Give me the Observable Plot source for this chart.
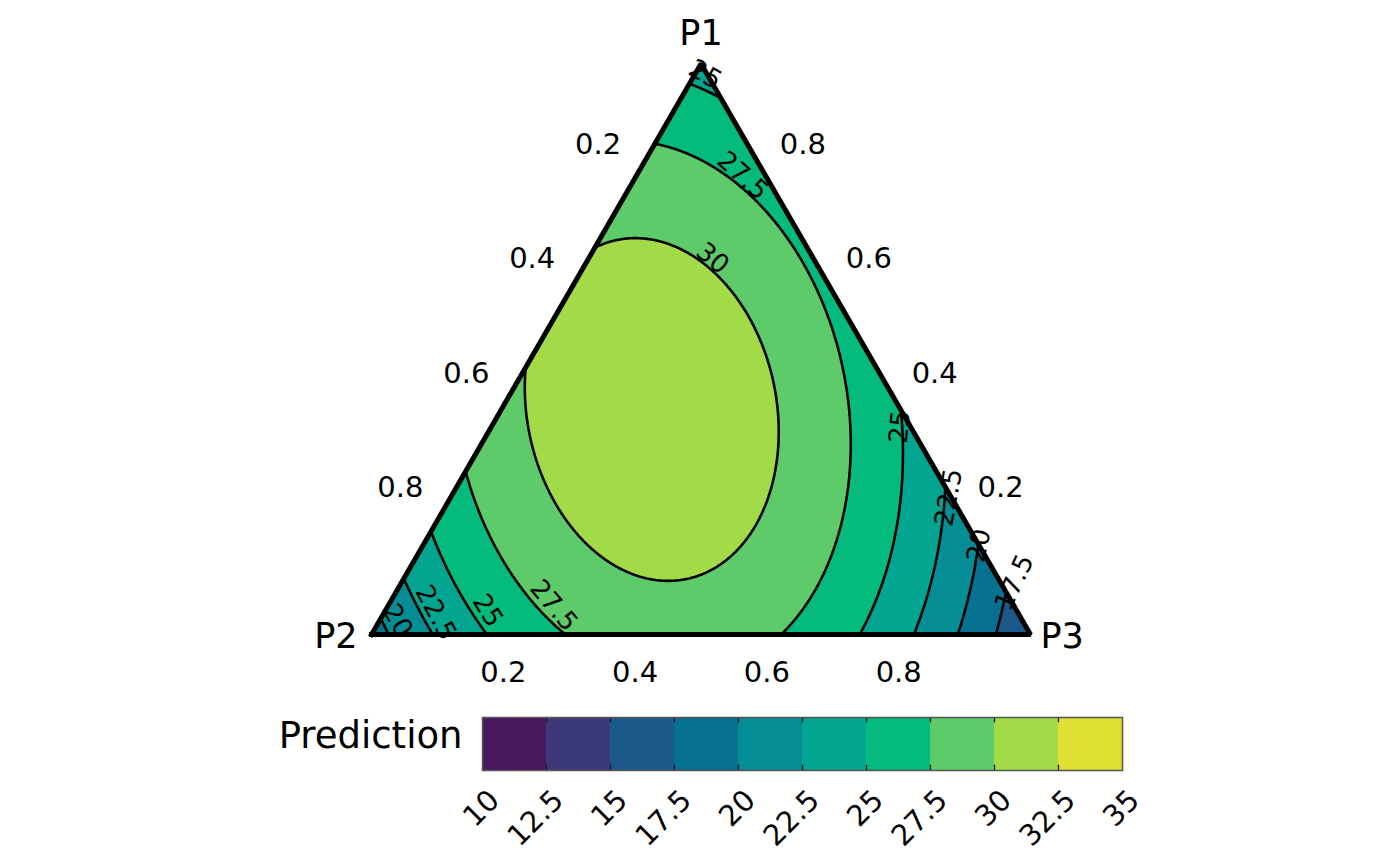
<!DOCTYPE html>
<html>
<head>
<meta charset="utf-8">
<script src="https://cdn.jsdelivr.net/npm/d3@7"></script>
<script src="https://cdn.jsdelivr.net/npm/@observablehq/plot@0.6"></script>
<style>
  html, body { margin: 0; padding: 0; background: #ffffff; }
  svg { display: block; }
</style>
</head>
<body>
<div id="chart"></div>
<script>
// ---------------- data ----------------
const components = ["P1", "P2", "P3"];
// predicted response at each pure component (triangle vertex)
const vertexValues = [24.0, 18.9, 14.95];
const pairNames = ["P1:P2", "P1:P3", "P2:P3"];
const pairValues = [35.0, 27.2, 47.0];

// colour bands
const breaks = [10, 12.5, 15, 17.5, 20, 22.5, 25, 27.5, 30, 32.5, 35];
const breakLabels = ["10", "12.5", "15", "17.5", "20", "22.5", "25", "27.5", "30", "32.5", "35"];
const bandColors = ["#4a185e", "#3b3978", "#1a598a", "#077192", "#048d94",
                    "#02a58f", "#04ba7d", "#5dcb6a", "#a2da48", "#e0e134"];

// axis ticks
const axisTicks = [0.2, 0.4, 0.6, 0.8];
const axisTickLabels = ["0.2", "0.4", "0.6", "0.8"];

// contour labels: text and composition (P1, P2, P3) where they sit, plus angle
const labelText  = ["25", "27.5", "30", "25", "22.5", "20", "17.5", "20", "22.5", "25", "27.5"];
const labelP1    = [0.981, 0.804, 0.659, 0.364, 0.240, 0.156, 0.091, 0.0245, 0.0385, 0.042, 0.0508];
const labelP2    = [0.003, 0.035, 0.153, 0.016, 0.004, 0.000, -0.021, 0.948, 0.884, 0.803, 0.698];
const labelP3    = [0.016, 0.161, 0.188, 0.620, 0.756, 0.844, 0.930, 0.027, 0.078, 0.155, 0.251];
const labelAngle = [30, 42, 40, -85, -80, -78, -65, 60, 62, 58, 50];

// ---------------- helpers ----------------
const H = Math.sqrt(3) / 2;
const toXY = (p1, p2, p3) => ({X: p3 + 0.5 * p1, Y: p1 * H});
const predict = (p) =>
  vertexValues[0] * p[0] + vertexValues[1] * p[1] + vertexValues[2] * p[2] +
  pairValues[0] * p[0] * p[1] + pairValues[1] * p[0] * p[2] + pairValues[2] * p[1] * p[2];

// prediction surface sampled on a grid covering the triangle's bounding box
const GW = 460, GH = 398;
const grid = new Float64Array(GW * GH);
for (let j = 0; j < GH; j++) {
  const Y = (j + 0.5) / GH * H;
  for (let i = 0; i < GW; i++) {
    const X = (i + 0.5) / GW;
    const p1 = Y / H, p3 = X - 0.5 * p1, p2 = 1 - p1 - p3;
    grid[j * GW + i] = predict([p1, p2, p3]);
  }
}

const vertices = components.map((name, k) => {
  const p = [0, 0, 0]; p[k] = 1;
  return {name, ...toXY(p[0], p[1], p[2])};
});
const contourLabels = labelText.map((t, i) => ({
  text: t, angle: labelAngle[i], ...toXY(labelP1[i], labelP2[i], labelP3[i])
}));
// white masks outside the triangle (extend a hair above the apex to hide seams)
const apexAbove = {X: vertices[0].X, Y: vertices[0].Y * 1.02};

const font = "DejaVu Sans";

// ---------------- main ternary plot ----------------
const main = Plot.plot({
  width: 1400,
  height: 700,
  marginLeft: 371,
  marginRight: 370,
  marginTop: 63.3,
  marginBottom: 66,
  x: {domain: [0, 1], axis: null},
  y: {domain: [0, H], axis: null},
  color: {type: "threshold", domain: breaks.slice(1, -1), range: bandColors},
  style: {fontFamily: font, background: "white", overflow: "visible"},
  marks: [
    Plot.contour(grid, {
      width: GW, height: GH, x1: 0, x2: 1, y1: 0, y2: H,
      fill: Plot.identity, thresholds: breaks.slice(0, -1), clip: true
    }),
    Plot.contour(grid, {
      width: GW, height: GH, x1: 0, x2: 1, y1: 0, y2: H,
      value: Plot.identity, fill: "none", stroke: "black", strokeWidth: 2.6,
      thresholds: breaks.slice(1, -1), clip: true
    }),
    Plot.areaX([vertices[1], vertices[0], apexAbove], {y: "Y", x1: -0.03, x2: "X", fill: "white"}),
    Plot.areaX([vertices[2], vertices[0], apexAbove], {y: "Y", x1: "X", x2: 1.03, fill: "white"}),
    // contour labels
    Plot.text(contourLabels, {x: "X", y: "Y", text: "text", rotate: "angle", fontSize: 26, fill: "black"}),
    // triangle border
    Plot.line([vertices[1], vertices[2], vertices[0], vertices[1]], {
      x: "X", y: "Y", stroke: "black", strokeWidth: 5, strokeLinejoin: "miter", strokeLinecap: "square"
    }),
    // bottom axis (P3)
    Plot.text(axisTicks, {
      x: d => toXY(0, 1 - d, d).X, y: d => toXY(0, 1 - d, d).Y,
      text: (d, i) => axisTickLabels[i], dy: 38, fontSize: 29, fill: "black"
    }),
    // left axis (P2)
    Plot.text(axisTicks, {
      x: d => toXY(1 - d, d, 0).X, y: d => toXY(1 - d, d, 0).Y,
      text: (d, i) => axisTickLabels[i], dx: -37, dy: -33, fontSize: 29, fill: "black"
    }),
    // right axis (P1)
    Plot.text(axisTicks, {
      x: d => toXY(d, 0, 1 - d).X, y: d => toXY(d, 0, 1 - d).Y,
      text: (d, i) => axisTickLabels[i], dx: 36, dy: -33, fontSize: 29, fill: "black"
    }),
    // vertex labels
    Plot.text([vertices[0]], {x: "X", y: "Y", text: "name", dy: -30, fontSize: 35, fill: "black"}),
    Plot.text([vertices[1]], {x: "X", y: "Y", text: "name", dx: -14, dy: 2, textAnchor: "end", fontSize: 35, fill: "black"}),
    Plot.text([vertices[2]], {x: "X", y: "Y", text: "name", dx: 10, dy: 2, textAnchor: "start", fontSize: 35, fill: "black"})
  ]
});

// ---------------- legend ----------------
const swatches = bandColors.map((c, i) => ({lo: breaks[i], hi: breaks[i + 1], color: c}));
const legend = Plot.plot({
  width: 1400,
  height: 166,
  marginLeft: 482,
  marginRight: 278,
  marginTop: 17,
  marginBottom: 96,
  x: {domain: [breaks[0], breaks[breaks.length - 1]], axis: null},
  y: {domain: [0, 1], axis: null},
  color: {type: "identity"},
  style: {fontFamily: font, background: "white", overflow: "visible"},
  marks: [
    Plot.rect(swatches, {x1: "lo", x2: "hi", y1: 0, y2: 1, fill: "color"}),
    Plot.ruleX(breaks.slice(1, -1), {y1: 0, y2: 0.1, stroke: "#1a1a1a", strokeWidth: 1.3}),
    Plot.ruleX(breaks.slice(1, -1), {y1: 0.9, y2: 1, stroke: "#1a1a1a", strokeWidth: 1.3}),
    Plot.frame({stroke: "#555555", strokeWidth: 1.5}),
    Plot.text(breaks, {
      x: d => d, y: 0, text: (d, i) => breakLabels[i], rotate: -45,
      textAnchor: "end", dx: 12, dy: 25, fontSize: 29, fill: "black"
    }),
    Plot.text(["Prediction"], {
      x: breaks[0], y: 0.5, text: d => d, textAnchor: "end", dx: -20, dy: -8, fontSize: 37, fill: "black"
    })
  ]
});

const chart = document.getElementById("chart");
chart.appendChild(main);
chart.appendChild(legend);
</script>
</body>
</html>
